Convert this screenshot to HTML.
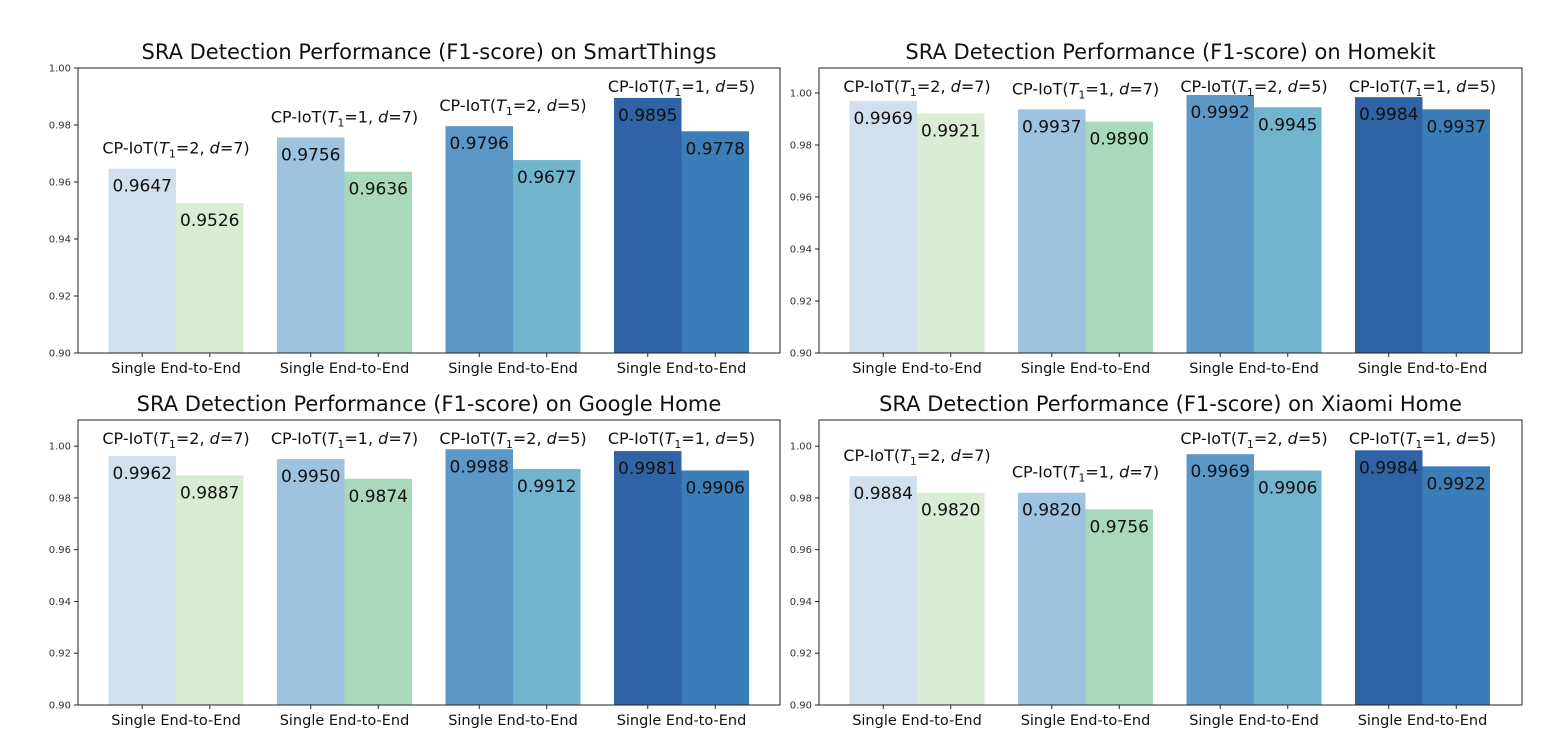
<!DOCTYPE html>
<html><head><meta charset="utf-8">
<style>
body{margin:0;background:#fff;}
svg text{font-family:"DejaVu Sans","Liberation Sans",sans-serif;}
</style></head>
<body>
<svg id="c" width="1564" height="744" viewBox="0 0 1564 744" xmlns="http://www.w3.org/2000/svg"></svg>
<script>
const panelTitles = ["SRA Detection Performance (F1-score) on SmartThings","SRA Detection Performance (F1-score) on Homekit","SRA Detection Performance (F1-score) on Google Home","SRA Detection Performance (F1-score) on Xiaomi Home"];
const groupT1 = ["2","1","2","1"];
const groupD = ["7","7","5","5"];
const singleValues = [
  [0.9647,0.9756,0.9796,0.9895],
  [0.9969,0.9937,0.9992,0.9984],
  [0.9962,0.9950,0.9988,0.9981],
  [0.9884,0.9820,0.9969,0.9984]
];
const e2eValues = [
  [0.9526,0.9636,0.9677,0.9778],
  [0.9921,0.9890,0.9945,0.9937],
  [0.9887,0.9874,0.9912,0.9906],
  [0.9820,0.9756,0.9906,0.9922]
];
const yTicks = [0.90,0.92,0.94,0.96,0.98,1.00];
const yMaxes = [1.0, 1.0096, 1.0101, 1.0101];

const singleColors = ["#d1e0ee","#9ec3de","#5b97c7","#2f63a5"];
const e2eColors = ["#d9edd2","#a9d9bb","#70b4cd","#3b7db8"];
const boxes = [
  {x:78,y:68,w:702,h:285},
  {x:819,y:68,w:703,h:285},
  {x:78,y:420,w:702,h:285},
  {x:819,y:420,w:703,h:285}
];
const NS="http://www.w3.org/2000/svg";
const svg=document.getElementById('c');
function mk(tag,attrs,parent,txt){const e=document.createElementNS(NS,tag);for(const k in attrs)e.setAttribute(k,attrs[k]);if(txt!==undefined)e.textContent=txt;(parent||svg).appendChild(e);return e;}

boxes.forEach((b,p)=>{
  const g=mk('g',{});
  
  
  const yMin=0.90,yMax=yMaxes[p];
  const yS=v=>b.y+b.h-(v-yMin)/(yMax-yMin)*b.h;
  const gx=i=>b.x+98+i*168.5;
  const bw=67.5;
  const t=mk('text',{x:b.x+b.w/2,y:b.y-9,'text-anchor':'middle','font-size':21,fill:'#111'},g,panelTitles[p]);
  
  
  yTicks.forEach(v=>{
    const y=yS(v);
    mk('line',{x1:b.x-4,x2:b.x,y1:y,y2:y,stroke:'#222'},g);
    const tl=mk('text',{x:b.x-7,y:y+3.5,'text-anchor':'end','font-size':10,fill:'#333'},g,v.toFixed(2));
    
    
  });
  for(let i=0;i<4;i++){
    const cx=gx(i);
    const sv=singleValues[p][i], ev=e2eValues[p][i];
    const r1=mk('rect',{x:cx-bw,y:yS(sv),width:bw,height:yS(yMin)-yS(sv),fill:singleColors[i]},g);
    
    
    const r2=mk('rect',{x:cx,y:yS(ev),width:bw,height:yS(yMin)-yS(ev),fill:e2eColors[i]},g);
    
    
    const l1=mk('text',{x:cx-bw/2,y:yS(sv)+23,'text-anchor':'middle','font-size':17,fill:'#111'},g,sv.toFixed(4));
    
    
    const l2=mk('text',{x:cx+bw/2,y:yS(ev)+23,'text-anchor':'middle','font-size':17,fill:'#111'},g,ev.toFixed(4));
    
    
    let ay=Math.max(yS(sv)-21,b.y+18)+6;
    const an=mk('text',{x:cx,y:ay,'text-anchor':'middle','font-size':16,fill:'#111'},g);
    
    
    mk('tspan',{},an,'CP-IoT(');
    mk('tspan',{'font-style':'italic'},an,'T');
    mk('tspan',{'font-size':11,dy:4},an,'1');
    mk('tspan',{dy:-4},an,'=' + groupT1[i] + ', ');
    mk('tspan',{'font-style':'italic'},an,'d');
    mk('tspan',{},an,'=' + groupD[i] + ')');
    mk('line',{x1:cx-bw/2,x2:cx-bw/2,y1:b.y+b.h,y2:b.y+b.h+4,stroke:'#222'},g);
    mk('line',{x1:cx+bw/2,x2:cx+bw/2,y1:b.y+b.h,y2:b.y+b.h+4,stroke:'#222'},g);
    const xl=mk('text',{x:cx,y:b.y+b.h+20,'text-anchor':'middle','font-size':14.5,fill:'#111'},g,'Single End-to-End');
    
    
  }
  mk('rect',{x:b.x,y:b.y,width:b.w,height:b.h,fill:'none',stroke:'#222','stroke-width':1},g);
});
</script>
</body></html>
